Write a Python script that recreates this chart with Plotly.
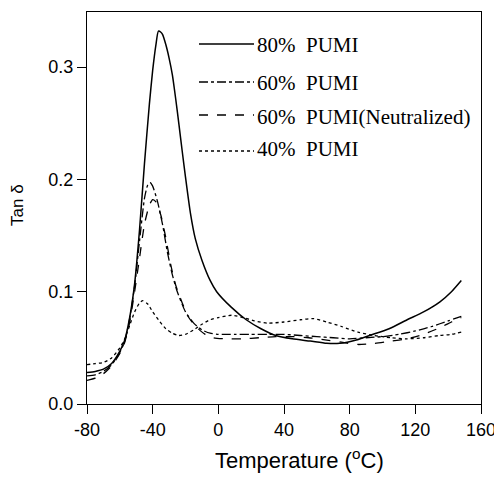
import plotly.graph_objects as go

# ---- data ----
t_80 = [-80, -75, -70, -65, -60, -57, -54, -51, -48, -45, -42, -40, -38, -36.5, -35, -34, -32, -30, -28, -26, -24, -22, -20, -17, -14, -10, -5, -1, 8, 17, 26, 35, 45, 56, 66, 74, 84, 92, 104, 115, 125, 135, 142, 148]
tan_80 = [0.028, 0.029, 0.031, 0.036, 0.047, 0.057, 0.077, 0.107, 0.155, 0.214, 0.267, 0.297, 0.320, 0.332, 0.331, 0.329, 0.320, 0.308, 0.293, 0.272, 0.249, 0.225, 0.202, 0.170, 0.147, 0.128, 0.110, 0.100, 0.086, 0.075, 0.067, 0.061, 0.058, 0.056, 0.054, 0.054, 0.057, 0.061, 0.067, 0.075, 0.082, 0.091, 0.100, 0.110]

t_60 = [-80, -75, -70, -65, -60, -57, -54, -51, -48, -45, -43, -41.5, -40, -37, -34, -31, -28, -25, -20, -15, -10, -5, 0, 10, 20, 30, 40, 50, 60, 70, 80, 90, 100, 110, 120, 130, 140, 148]
tan_60 = [0.025, 0.026, 0.029, 0.035, 0.046, 0.056, 0.076, 0.105, 0.145, 0.183, 0.195, 0.197, 0.194, 0.180, 0.160, 0.135, 0.115, 0.100, 0.082, 0.072, 0.066, 0.063, 0.062, 0.062, 0.062, 0.062, 0.062, 0.061, 0.060, 0.059, 0.058, 0.059, 0.060, 0.062, 0.065, 0.069, 0.074, 0.078]

t_60n = [-80, -75, -70, -65, -60, -57, -54, -51, -48, -45, -42, -40, -38, -35, -32, -29, -26, -22, -18, -13, -8, -3, 5, 15, 25, 35, 45, 55, 65, 75, 85, 95, 105, 115, 125, 135, 142, 148]
tan_60n = [0.021, 0.023, 0.027, 0.034, 0.045, 0.055, 0.073, 0.100, 0.130, 0.160, 0.177, 0.182, 0.180, 0.168, 0.148, 0.124, 0.106, 0.090, 0.077, 0.068, 0.062, 0.059, 0.058, 0.058, 0.059, 0.060, 0.060, 0.059, 0.057, 0.055, 0.053, 0.054, 0.056, 0.058, 0.062, 0.068, 0.073, 0.077]

t_40 = [-80, -75, -70, -65, -60, -57, -54, -51, -48, -46, -43, -40, -36, -32, -28, -24, -20, -15, -10, -5, 0, 8, 15, 22, 30, 40, 50, 58, 66, 75, 85, 95, 105, 115, 125, 135, 142, 148]
tan_40 = [0.035, 0.036, 0.037, 0.041, 0.050, 0.058, 0.070, 0.082, 0.090, 0.092, 0.089, 0.082, 0.074, 0.067, 0.063, 0.061, 0.062, 0.066, 0.071, 0.075, 0.077, 0.079, 0.077, 0.074, 0.072, 0.073, 0.075, 0.076, 0.073, 0.069, 0.064, 0.061, 0.059, 0.058, 0.059, 0.061, 0.062, 0.064]

series_names = ["80%\u00a0 PUMI", "60%\u00a0 PUMI", "60%\u00a0 PUMI(Neutralized)", "40%\u00a0 PUMI"]
x_ticks = [-80, -40, 0, 40, 80, 120, 160]
y_ticks = [0.0, 0.1, 0.2, 0.3]

# ---- figure geometry (page has an 8px body margin) ----
OFF = 8
W, H = 502 - OFF, 483 - OFF
X0, X1, Y0, Y1 = 87, 481, 12, 404          # plot frame in window pixels
L, T = X0 - OFF, Y0 - OFF
pw, ph = X1 - X0, Y1 - Y0
R, B = W - L - pw, H - T - ph


def px(x):
    return (x - X0) / pw


def py(y):
    return (Y1 - y) / ph


series = [
    (t_80, tan_80, "solid", 1.5),
    (t_60, tan_60, "dashdot", 1.3),
    (t_60n, tan_60n, "dash", 1.3),
    (t_40, tan_40, "dot", 1.3),
]

fig = go.Figure()
for (xs, ys, dash, w), name in zip(series, series_names):
    fig.add_trace(go.Scatter(x=xs, y=ys, mode="lines", name=name,
                             line=dict(color="black", width=w, dash=dash, shape="spline", smoothing=0.6),
                             showlegend=False))

# manual legend
leg_line_y = [44, 82, 115, 151]
leg_text_y = [45, 83, 117, 149]
for (xs, ys, dash, w), name, ly, ty in zip(series, series_names, leg_line_y, leg_text_y):
    fig.add_shape(type="line", xref="paper", yref="paper",
                  x0=px(199), x1=px(254), y0=py(ly), y1=py(ly),
                  line=dict(color="black", width=w, dash=dash))
    fig.add_annotation(xref="paper", yref="paper", x=px(255), y=py(ty),
                       text=name, showarrow=False, xanchor="left", yanchor="middle",
                       font=dict(family="Liberation Serif, Times New Roman, serif", size=21, color="black"))

# axis titles
fig.add_annotation(xref="paper", yref="paper", x=px(17), y=py(205),
                   text="Tan δ", textangle=-90, showarrow=False, xanchor="center", yanchor="middle",
                   font=dict(family="Liberation Sans, Arial, sans-serif", size=17, color="black"))
fig.add_annotation(xref="paper", yref="paper", x=px(299), y=py(459),
                   text="Temperature (<sup>o</sup>C)", showarrow=False, xanchor="center", yanchor="middle",
                   font=dict(family="Liberation Sans, Arial, sans-serif", size=22, color="black"))

axis_font = dict(family="Liberation Sans, Arial, sans-serif", size=18, color="black")
fig.update_xaxes(range=[-80, 160], tickvals=x_ticks, ticktext=[str(v) for v in x_ticks],
                 showgrid=False, zeroline=False, showline=True, linecolor="black", linewidth=1.3,
                 mirror=True, ticks="outside", ticklen=9, tickwidth=1.2, tickcolor="black",
                 tickfont=axis_font)
fig.update_yaxes(range=[0, 0.349], tickvals=y_ticks, ticktext=[f"{v:.1f}" for v in y_ticks],
                 showgrid=False, zeroline=False, showline=True, linecolor="black", linewidth=1.3,
                 mirror=True, ticks="outside", ticklen=9, tickwidth=1.2, tickcolor="black",
                 tickfont=axis_font)

fig.update_layout(width=W, height=H, margin=dict(l=L, r=R, t=T, b=B),
                  paper_bgcolor="white", plot_bgcolor="white", showlegend=False)

fig.write_html("out.html")
